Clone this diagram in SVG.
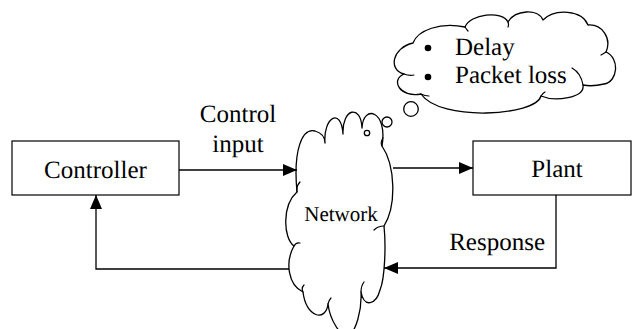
<svg xmlns="http://www.w3.org/2000/svg" width="632" height="329" viewBox="0 0 632 329">
  <style>
    .box { fill: #ffffff; stroke: #000000; stroke-width: 1.2; }
    .cloud { fill: #ffffff; stroke: #000000; stroke-width: 1.3; stroke-linejoin: round; }
    .hook { fill: none; stroke: #000000; stroke-width: 1.2; stroke-linecap: round; }
    .wire { fill: none; stroke: #000000; stroke-width: 1.3; marker-end: url(#arrow); }
    text { font-family: 'Liberation Serif', 'Times New Roman', serif; fill: #000000; text-rendering: geometricPrecision; }
    .lbl { font-size: 25px; }
    .small { font-size: 21px; }
    .mid { text-anchor: middle; }
  </style>
  <defs>
    <marker id="arrow" viewBox="0 0 14 12" refX="14" refY="6" markerWidth="14" markerHeight="12" markerUnits="userSpaceOnUse" orient="auto">
      <path d="M0,0 L14,6 L0,12 Z" fill="#000000"/>
    </marker>
  </defs>

  <!-- Controller block -->
  <g id="controller">
    <rect class="box" x="12" y="141" width="167" height="54"/>
    <text class="lbl mid" x="95.5" y="178">Controller</text>
  </g>

  <!-- Plant block -->
  <g id="plant">
    <rect class="box" x="473" y="141" width="158" height="54"/>
    <text class="lbl mid" x="557" y="177">Plant</text>
  </g>

  <!-- Network cloud -->
  <g id="network">
    <path class="cloud" d="M297,192
      C293,150 302,128 315,131
      C322,133 325,138 325,143
      C323,118 341,106 343,134
      C342,108 361,104 362,128
      C363,104 388,110 382,146
      C395,165 397,205 384,226
      C386,245 385,278 380,290
      C376,305 364,308 361,292
      C362,310 356,332 348,336
      C340,336 330,320 328,304
      C326,322 306,318 303,292
      C288,285 285,262 294,246
      C283,238 282,205 297,192 Z"/>
    <!-- curls where the puffs overlap -->
    <path class="hook" d="M297,192 Q296,186 300,182 M294,246 Q296,242 300,243 M303,292 Q301,288 304,285 M328,304 Q329,300 331,298 M361,292 Q361,286 364,282 M384,226 Q378,226 374,230 M382,146 Q380,142 383,138"/>
    <text class="small mid" x="341" y="221">Network</text>
  </g>

  <!-- Thought bubble with impairments -->
  <g id="impairments">
    <circle class="cloud" cx="367" cy="133" r="2.7"/>
    <circle class="cloud" cx="387" cy="122" r="5"/>
    <circle class="cloud" cx="411" cy="109" r="7.3"/>
    <path class="cloud" d="M413,43
      C418,30 440,22 465,27
      C470,14 502,10 508,22
      C515,10 538,8 543,20
      C555,8 582,10 588,25
      C602,24 612,38 606,52
      C620,58 618,82 604,84
      C596,86 588,86 583,85
      C585,98 555,102 541,96
      C536,116 440,122 421,94
      C400,98 390,80 404,74
      C388,70 392,48 413,43 Z"/>
    <!-- curls where the puffs overlap -->
    <path class="hook" d="M404,74 Q409,76 414,75 M421,94 Q425,96 429,96 M583,85 Q581,73 572,68 M541,96 Q543,93 545,92 M465,27 Q467,30 468,31 M508,22 Q509,25 508,27 M606,52 Q603,54 601,55"/>
    <circle cx="428" cy="48" r="3.3" fill="#000000"/>
    <circle cx="428" cy="77" r="3.3" fill="#000000"/>
    <text class="lbl" x="455" y="55">Delay</text>
    <text class="lbl" x="455" y="83">Packet loss</text>
  </g>

  <!-- Signal paths -->
  <g id="connectors">
    <path class="wire" d="M179,170 H297"/>
    <path class="wire" d="M393,168 H473"/>
    <path class="wire" d="M556,195 V268 H384"/>
    <path class="wire" d="M289,269 H96 V195"/>
    <text class="lbl mid" x="238" y="122">Control</text>
    <text class="lbl mid" x="238" y="152">input</text>
    <text class="lbl" x="545" y="250" text-anchor="end">Response</text>
  </g>
</svg>
